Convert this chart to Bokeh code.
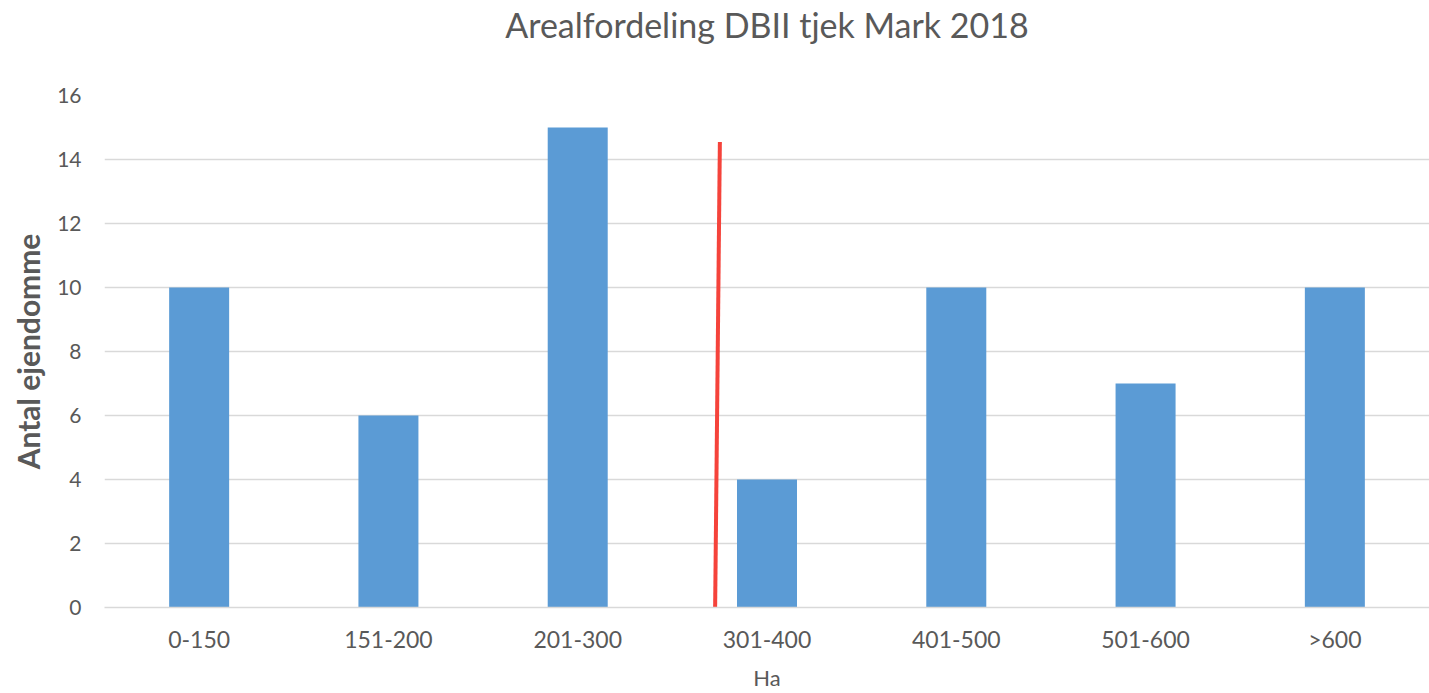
from bokeh.plotting import figure
from bokeh.models import Range1d, ColumnDataSource, LinearAxis, FixedTicker
from bokeh.embed import file_html
from bokeh.resources import INLINE

categories = ["0-150", "151-200", "201-300", "301-400", "401-500", "501-600", ">600"]
counts = [10, 6, 15, 4, 10, 7, 10]

# hand-drawn red marker line (position along the category axis) and heights
marker_x = [3.226, 3.251]
marker_y = [0.0, 14.55]

TITLE = "Arealfordeling DBII tjek Mark 2018"
FONT = "Lato"
GREY = "#595959"

n = len(categories)
centers = [i + 0.5 for i in range(n)]

p = figure(
    x_range=Range1d(0, n),
    y_range=Range1d(0, 16),
    width=1429, height=693,
    output_backend="svg", toolbar_location=None,
    x_axis_location=None,
    min_border_left=104, min_border_right=0,
    min_border_top=94, min_border_bottom=86,
)
p.title = None

src = ColumnDataSource(dict(x=centers, top=counts, cat=categories))
p.vbar(x="x", top="top", source=src, width=0.317, color="#5B9BD5", line_color=None)

msrc = ColumnDataSource(dict(x=marker_x, y=marker_y))
p.line(x="x", y="y", source=msrc, line_color="#F5433B", line_width=4)

# category axis below
xa = LinearAxis(ticker=FixedTicker(ticks=centers),
                major_label_overrides={c: lab for c, lab in zip(centers, categories)})
xa.axis_line_color = "#D9D9D9"
xa.axis_line_width = 1.5
xa.major_tick_line_color = None
xa.minor_tick_line_color = None
xa.major_label_text_font = FONT
xa.major_label_text_color = GREY
xa.major_label_text_font_size = "23px"
xa.major_label_standoff = 11
xa.axis_label = "Ha"
xa.axis_label_text_font = FONT
xa.axis_label_text_color = GREY
xa.axis_label_text_font_size = "22px"
xa.axis_label_text_font_style = "normal"
xa.axis_label_standoff = 8
p.add_layout(xa, "below")

# chart title, drawn as the label of a bare axis above the plot
title_axis = LinearAxis(ticker=FixedTicker(ticks=[]), bounds=(0, 6.218),
                        axis_label=TITLE)
title_axis.axis_line_color = None
title_axis.major_tick_line_color = None
title_axis.minor_tick_line_color = None
title_axis.major_label_text_font_size = "0px"
title_axis.axis_label_text_font = FONT
title_axis.axis_label_text_font_size = "34px"
title_axis.axis_label_text_font_style = "normal"
title_axis.axis_label_text_color = GREY
title_axis.axis_label_standoff = 51
p.add_layout(title_axis, "above")

p.outline_line_color = None
p.background_fill_color = "white"
p.border_fill_color = "white"

p.xgrid.grid_line_color = None
p.ygrid.grid_line_color = "#D9D9D9"
p.ygrid.grid_line_width = 1.5

ya = p.yaxis[0]
ya.ticker = FixedTicker(ticks=list(range(0, 17, 2)))
ya.axis_line_color = None
ya.major_tick_line_color = None
ya.minor_tick_line_color = None
ya.major_label_text_font = FONT
ya.major_label_text_color = GREY
ya.major_label_text_font_size = "21px"
ya.major_label_standoff = 17
ya.axis_label = "Antal ejendomme"
ya.axis_label_text_font = FONT
ya.axis_label_text_color = GREY
ya.axis_label_text_font_size = "30px"
ya.axis_label_text_font_style = "bold"
ya.axis_label_standoff = 8

open("out.html", "w").write(file_html(p, INLINE))
